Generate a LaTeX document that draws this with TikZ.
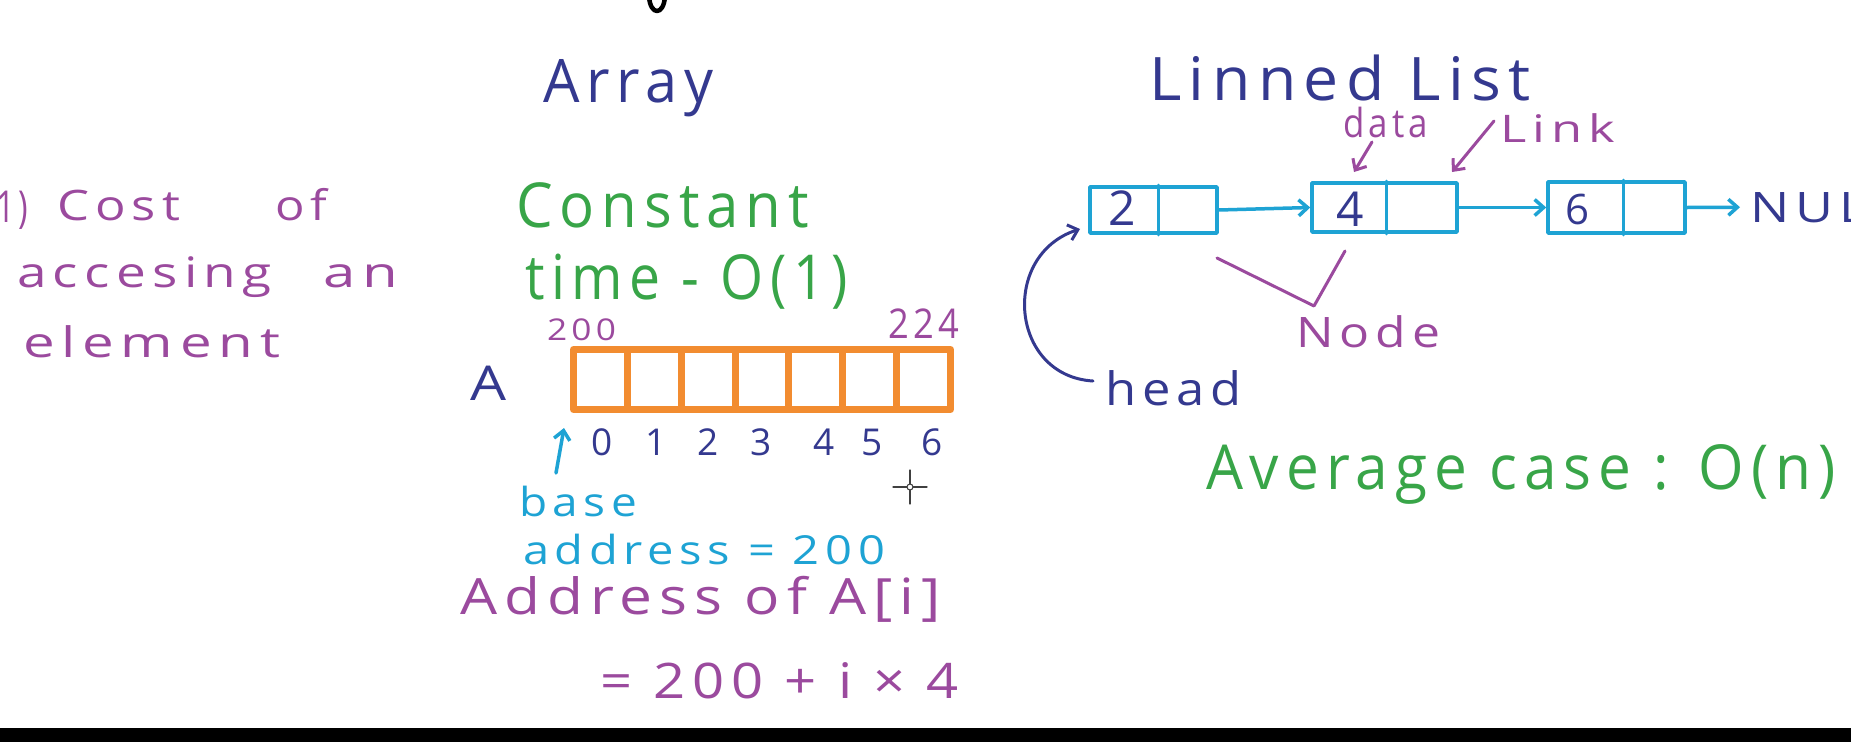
\documentclass[tikz,border=0pt]{standalone}
\usepackage{fontspec}
\usepackage{graphicx}
\setmainfont{Open Sans}
\newfontfamily\hand[LetterSpace=12]{Open Sans}
\usetikzlibrary{arrows.meta}
\definecolor{cpurple}{HTML}{9B4A9E}
\definecolor{cblue}{HTML}{34398F}
\definecolor{cgreen}{HTML}{38A548}
\definecolor{corange}{HTML}{F28C30}
\definecolor{ccyan}{HTML}{1EA3D4}
\newcommand{\hw}[3]{\resizebox{#1pt}{\height}{\hand\fontsize{#2}{#2}\selectfont #3}}
\newcommand{\hn}[2]{{\hand\fontsize{#1}{#1}\selectfont #2}}
\begin{document}
\begin{tikzpicture}[x=1pt,y=-1pt,line cap=round,line join=round,
  lbl/.style={inner sep=0pt,outer sep=0pt,anchor=base west},
  clbl/.style={inner sep=0pt,outer sep=0pt,anchor=base},
  harrow/.style={-{Straight Barb[length=9pt,width=16pt]}},
  acell/.style={draw=corange,line width=7pt,minimum width=53.86pt,minimum height=60pt,inner sep=0pt},
  lnode/.style={draw=ccyan,line width=3.5pt,inner sep=0pt}]
\useasboundingbox (0,0) rectangle (1851,742);
\clip (0,0) rectangle (1851,742);
\fill[white] (0,0) rectangle (1851,742);
% cut-off stroke at the top
\draw[black,line width=4.5pt] (649,-4) .. controls (650,16) and (664,16) .. (665,-4);
% bottom black band
\fill[black] (0,728) rectangle (1851,742);

% left text
\node[lbl,text=cpurple] (t1) at (-4,222) {\hw{32}{44}{1)}};
\node[lbl,text=cpurple] (t2) at (57,220) {\hw{123}{42}{Cost}};
\node[lbl,text=cpurple] (t3) at (275,220) {\hw{52}{42}{of}};
\node[lbl,text=cpurple] (t4) at (17,287) {\hw{255}{42}{accesing}};
\node[lbl,text=cpurple] (t5) at (323,287) {\hw{75}{42}{an}};
\node[lbl,text=cpurple] (t6) at (23,357) {\hw{257}{42}{element}};

% array section
\node[lbl,text=cblue] (arr) at (543,102) {\hw{171}{60}{Array}};
\node[lbl,text=cgreen] (const) at (516,227) {\hw{293}{62}{Constant}};
\node[lbl,text=cgreen] (time) at (525,299) {\hw{323}{62}{time - O(1)}};
\node[lbl,text=cpurple] (a200) at (547,340) {\hw{69}{30}{200}};
\node[lbl,text=cpurple] (a224) at (888,338) {\hw{71}{41}{224}};
\node[lbl,text=cblue] (aA) at (470,400) {\hw{36}{48}{A}};
\foreach \i in {0,...,6}
  \node[acell] (c\i) at ({573.5+53.86*(\i+0.5)},379.5) {};
\foreach \i/\x in {0/602,1/656,2/708,3/761,4/824,5/872,6/932}
  \node[clbl,text=cblue] (ix\i) at (\x,455) {\hn{37}{\i}};
\node[lbl,text=ccyan] (base) at (519,516) {\hw{118}{40}{base}};
\node[lbl,text=ccyan] (addr) at (523,564) {\hw{362}{40}{address = 200}};
\coordinate (bs) at (556,473);
\coordinate (bt) at (564,428);
\draw[harrow,ccyan,line width=3.5pt] (bs) -- (bt);
\node[lbl,text=cpurple] (addrof) at (460,614) {\hw{481}{50}{Address of A[i]}};
\node[lbl,text=cpurple] (formula) at (600,698) {\hw{359}{49}{= 200 + i × 4}};
% cursor crosshair
\draw[black!75,line width=1.3pt] (910,470) -- (910,504) (893,487) -- (927,487);
\node[circle,draw=black!75,fill=white,line width=1.1pt,minimum size=6pt,inner sep=0pt] (cur) at (910,487) {};

% linked list section
\node[lbl,text=cblue] (ll) at (1149,100) {\hw{382}{60}{Linned List}};
\node[lbl,text=cpurple] (data) at (1343,137) {\hw{85}{40}{data}};
\node[lbl,text=cpurple] (link) at (1500,142) {\hw{115}{38}{Link}};
\node[lnode,minimum width=127pt,minimum height=46pt] (n1) at (1153.5,210) {};
\node[lnode,minimum width=145pt,minimum height=49pt] (n2) at (1384.5,207.5) {};
\node[lnode,minimum width=137pt,minimum height=51pt] (n3) at (1616.5,207.5) {};
\draw[ccyan,line width=3.5pt] ([xshift=70pt]n1.north west) -- ([xshift=70pt]n1.south west);
\draw[ccyan,line width=3.5pt] ([xshift=76pt]n2.north west) -- ([xshift=76pt]n2.south west);
\draw[ccyan,line width=3.5pt] ([xshift=77pt]n3.north west) -- ([xshift=77pt]n3.south west);
\node[clbl,text=cblue] (v1) at (1122,225) {\hn{48}{2}};
\node[clbl,text=cblue] (v2) at (1350,226) {\hn{48}{4}};
\node[clbl,text=cblue] (v3) at (1577,224) {\hn{42}{6}};
\draw[harrow,ccyan,line width=3.5pt] (n1.east) -- (n2.west);
\draw[harrow,ccyan,line width=3.5pt] (n2.east) -- (n3.west);
\node[lbl,text=cblue] (null) at (1750,222) {\hw{150}{42}{NULL}};
\draw[harrow,ccyan,line width=3.5pt] (n3.east) -- ([xshift=-10pt]null.west);
% data / link pointers
\coordinate (ds) at (1372,142);
\coordinate (de) at (1354,172);
\draw[harrow,cpurple,line width=3pt] (ds) -- (de);
\coordinate (ls) at (1494,121);
\coordinate (le) at (1452,172);
\draw[harrow,cpurple,line width=3pt] (ls) -- (le);
% node brace
\coordinate (b1) at (1217,258);
\coordinate (b2) at (1314,306);
\coordinate (b3) at (1345,251);
\draw[cpurple,line width=3pt] (b1) -- (b2) -- (b3);
\node[lbl,text=cpurple] (nodel) at (1296,347) {\hw{144}{42}{Node}};
% head
\node[lbl,text=cblue] (head) at (1105,405) {\hw{137}{46}{head}};
\coordinate (hs) at (1093,381);
\coordinate (ht) at (1080,229);
\draw[harrow,cblue,line width=3pt] (hs) .. controls (1010,376) and (1000,255) .. (ht);
% average case
\node[lbl,text=cgreen] (avg) at (1206,489) {\hw{630}{62}{Average case : O(n)}};
\end{tikzpicture}
\end{document}
